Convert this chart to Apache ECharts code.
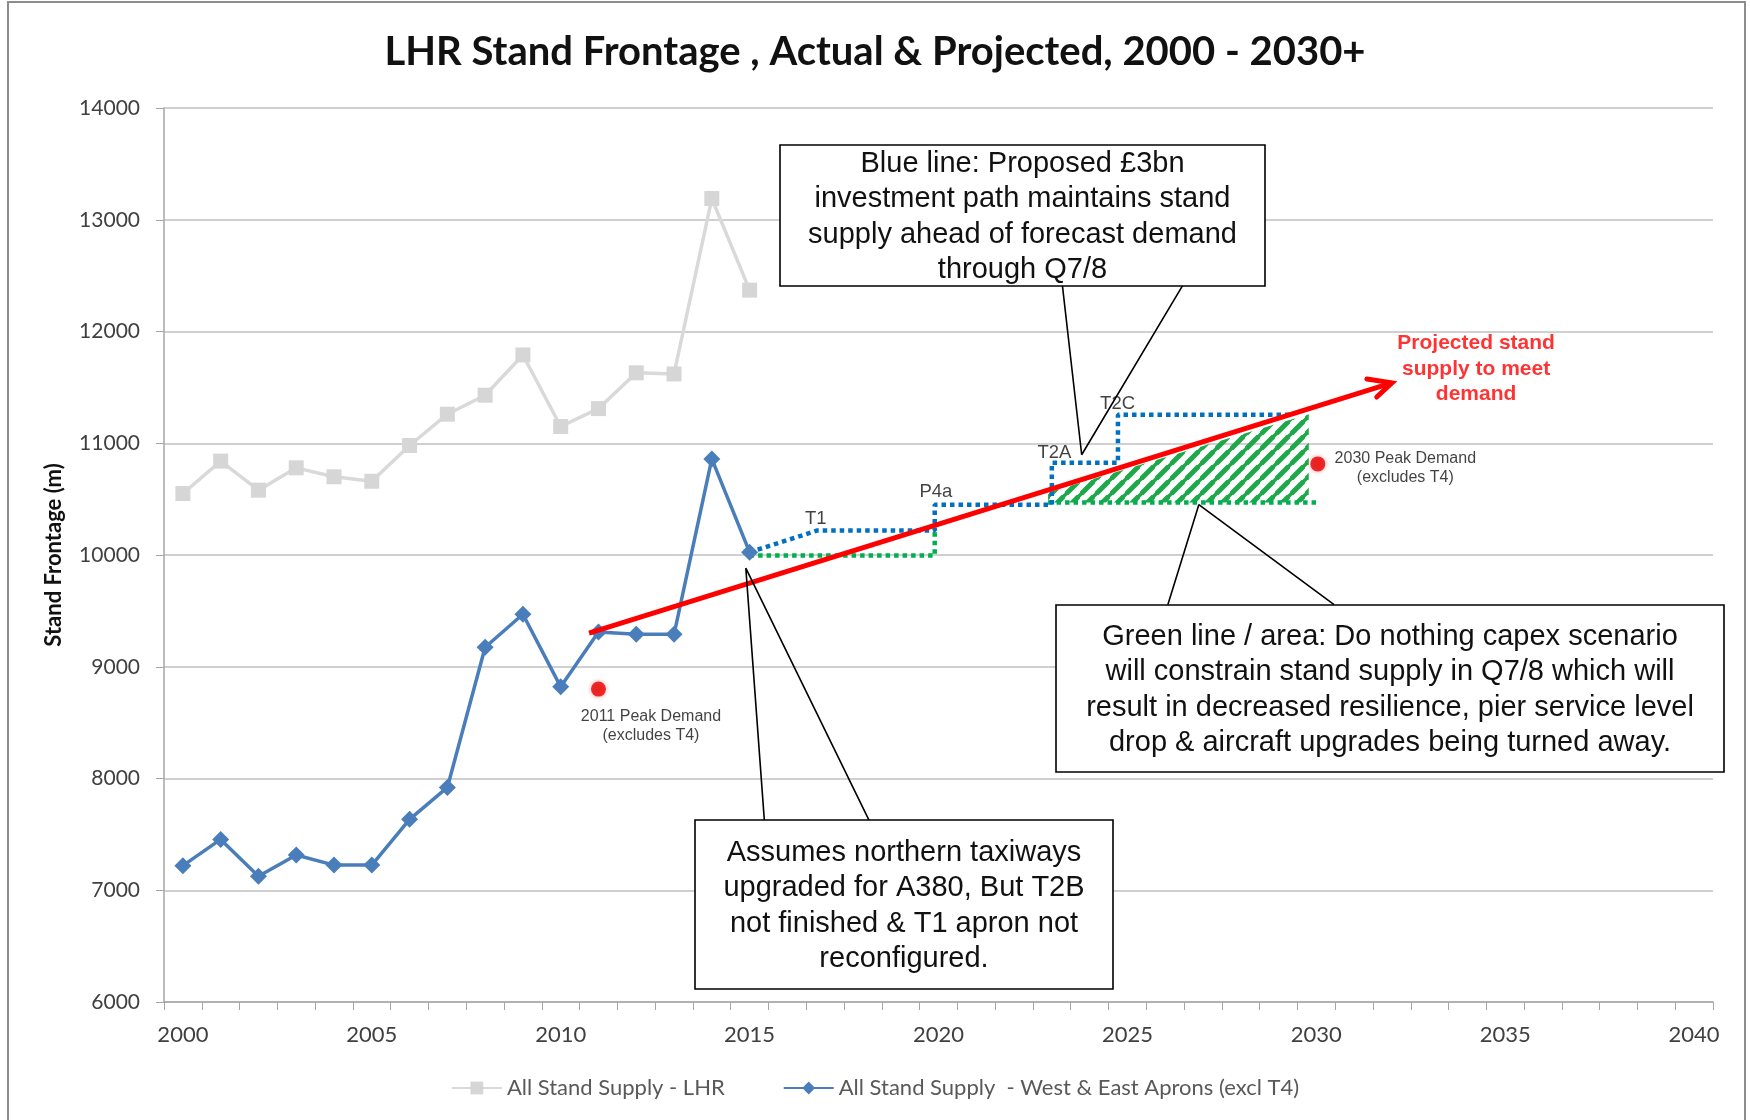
<!DOCTYPE html>
<html><head><meta charset="utf-8">
<script src="https://cdn.jsdelivr.net/npm/echarts@6/dist/echarts.min.js"></script>
<style>html,body{margin:0;padding:0;background:#fff}#c{width:1750px;height:1120px}</style>
</head><body><div id="c"></div>
<script>
// ---------- data ----------
const years = ['2000','2001','2002','2003','2004','2005','2006','2007','2008','2009','2010',
  '2011','2012','2013','2014','2015','2016','2017','2018','2019','2020','2021','2022','2023',
  '2024','2025','2026','2027','2028','2029','2030','2031','2032','2033','2034','2035','2036',
  '2037','2038','2039','2040'];
const yTicks = [6000, 14000, 1000]; // min, max, step
const lhrSupply = [10550,10840,10580,10780,10700,10660,10980,11260,11430,11790,11150,11310,11630,11620,13190,12370];
const westEastSupply = [7220,7455,7125,7315,7225,7225,7635,7920,9175,9470,8820,9310,9290,9290,10860,10025];
const peakDemand = [[2011.0, 8800], [2030.04, 10815]];
const peakDemandLabels = ['2011 Peak Demand\n(excludes T4)', '2030 Peak Demand\n(excludes T4)'];
const investmentPath = [[2015,10025],[2016.8,10220],[2019.9,10220],[2019.9,10450],[2023.0,10450],
  [2023.0,10825],[2024.75,10825],[2024.75,11255],[2029.3,11255]];
const doNothingPathA = [[2015,9995],[2019.9,9995],[2019.9,10220]];
const doNothingPathB = [[2022.9,10470],[2030.1,10470]];
const doNothingArea = [[2022.9,10470],[2029.8,10470],[2029.8,11260],[2022.9,10560]];
const projectionLine = [[2010.75,9300],[2032.0,11540]];
const projectionHead = [[2031.34,11575],[2032.0,11540],[2031.6,11414]];
const segmentLabels = [['T1',2016.75,10324],['P4a',2019.93,10567],['T2A',2023.07,10913],['T2C',2024.74,11350]];
const projectionText = [['Projected stand\nsupply to meet\ndemand', 2034.23, 11664]];
const leaderLines = [
  [[2023.28,12410],[2023.79,10897],[2026.46,12410]],
  [[2026.07,9555],[2026.89,10450],[2030.47,9555]],
  [[2015.39,7628],[2014.9,9883],[2018.16,7628]]
];
const calloutTexts = [
  'Blue line: Proposed £3bn\ninvestment path maintains stand\nsupply ahead of forecast demand\nthrough Q7/8',
  'Green line / area: Do nothing capex scenario\nwill constrain stand supply in Q7/8 which will\nresult in decreased resilience, pier service level\ndrop & aircraft upgrades being turned away.',
  'Assumes northern taxiways\nupgraded for A380, But T2B\nnot finished & T1 apron not\nreconfigured.'
];

// ---------- styles / layout ----------
const calloutBoxes = [
  {x:780, y:145, w:485, h:141, ty:217},
  {x:1056, y:605, w:668, h:167, ty:690},
  {x:695, y:820, w:418, h:169, ty:906}
];

// hatch pattern
const pat = document.createElement('canvas');
pat.width = 15; pat.height = 15;
(function(){
  const g = pat.getContext('2d');
  g.strokeStyle = '#1fa84b'; g.lineWidth = 5; g.lineCap = 'square';
  g.beginPath();
  g.moveTo(-2,17); g.lineTo(17,-2);
  g.moveTo(-9,8); g.lineTo(8,-9);
  g.moveTo(7,24); g.lineTo(24,7);
  g.stroke();
})();

const chart = echarts.init(document.getElementById('c'), null, {renderer:'canvas'});
const lab = 'Lato';
const series = [];

series.push({
  type:'custom', xAxisIndex:1, yAxisIndex:0, data: doNothingArea, silent:true, z:2,
  renderItem: function(params, api){
    if (params.dataIndex !== 0) return null;
    const pts = doNothingArea.map(function(p){ return api.coord(p); });
    return {type:'polygon', shape:{points:pts}, style:{fill:{image:pat, repeat:'repeat'}, stroke:null}};
  }
});
[doNothingPathA, doNothingPathB].forEach(function(d){
  series.push({type:'line', xAxisIndex:1, data:d, symbol:'none', z:3, silent:true,
    lineStyle:{color:'#00b050', width:4.5, type:[4.5,4], cap:'butt'}});
});
series.push({type:'line', xAxisIndex:1, data:investmentPath, symbol:'none', z:3, silent:true,
  lineStyle:{color:'#0070c0', width:4.5, type:[4.5,4], cap:'butt'}});

series.push({name:'All Stand Supply - LHR', type:'line', data:lhrSupply, symbol:'rect', symbolSize:15, z:4,
  lineStyle:{color:'#d9d9d9', width:3.5}, itemStyle:{color:'#d6d6d6'}});
series.push({name:'All Stand Supply  - West & East Aprons (excl T4)', type:'line', data:westEastSupply,
  symbol:'diamond', symbolSize:17, z:5,
  lineStyle:{color:'#4a7ebb', width:3.5}, itemStyle:{color:'#4a7ebb'}});

series.push({type:'line', xAxisIndex:1, data:projectionLine, symbol:'none', z:6, silent:true,
  lineStyle:{color:'#ff0000', width:5}});
series.push({type:'line', xAxisIndex:1, data:projectionHead, symbol:'none', z:6, silent:true,
  lineStyle:{color:'#ff0000', width:5, cap:'round', join:'miter'}});

leaderLines.forEach(function(d){
  series.push({type:'line', xAxisIndex:1, data:d, symbol:'none', z:8, silent:true,
    lineStyle:{color:'#000', width:1.6}});
});

const peakLabelPos = [[60,44],[95,12]];
series.push({type:'scatter', xAxisIndex:1, z:7, silent:true, symbolSize:15,
  itemStyle:{color:'#e60000', shadowBlur:5, shadowColor:'rgba(255,0,0,0.45)'},
  data: peakDemand.map(function(p,i){
    return {value:p, label:{show:true, formatter:peakDemandLabels[i], position:peakLabelPos[i],
      align:'center', verticalAlign:'middle', fontFamily:'Liberation Sans', fontSize:16, lineHeight:19, color:'#111'}};
  })
});
series.push({type:'scatter', xAxisIndex:1, z:7, silent:true, symbolSize:0,
  data: segmentLabels.map(function(s){ return {value:[s[1],s[2]], name:s[0]}; }),
  label:{show:true, position:'inside', formatter:'{b}', fontFamily:'Liberation Sans', fontSize:18.5, color:'#111'}
});
series.push({type:'scatter', xAxisIndex:1, z:7, silent:true, symbolSize:0,
  data: projectionText.map(function(s){ return {value:[s[1],s[2]], name:s[0]}; }),
  label:{show:true, position:'inside', formatter:'{b}', fontFamily:'Liberation Sans', fontWeight:'bold',
    fontSize:21, lineHeight:25.5, color:'#ff0000', align:'center', verticalAlign:'middle'}
});

const graphics = [
  {type:'rect', shape:{x:8, y:2, width:1737, height:1140}, style:{fill:null, stroke:'#8c8c8c', lineWidth:2}, silent:true, z:0}
];
calloutBoxes.forEach(function(b,i){
  graphics.push({type:'rect', shape:{x:b.x, y:b.y, width:b.w, height:b.h}, z:100,
    style:{fill:'#fff', stroke:'#000', lineWidth:1.6}});
  graphics.push({type:'text', x:b.x + b.w/2, y:b.ty, z:101,
    style:{text:calloutTexts[i], fontFamily:'Liberation Sans', fontSize:29, lineHeight:35.5,
      fill:'#111', align:'center', verticalAlign:'middle'}});
});

chart.setOption({
  animation:false,
  backgroundColor:'#fff',
  title:{text:'LHR Stand Frontage , Actual & Projected, 2000 - 2030+', left:'center', top:27,
    textStyle:{fontFamily:lab, fontWeight:'bold', fontSize:40, color:'#111'}},
  grid:{left:164, right:37, top:108, bottom:118, containLabel:false},
  legend:{bottom:16, left:'center', itemWidth:50, itemHeight:16, itemGap:58,
    data:['All Stand Supply - LHR','All Stand Supply  - West & East Aprons (excl T4)'],
    textStyle:{fontFamily:lab, fontSize:22, color:'#595959'}},
  xAxis:[
    {type:'category', data:years, boundaryGap:true,
      axisLine:{lineStyle:{color:'#a6a6a6', width:1.5}},
      axisTick:{show:true, interval:0, length:8, lineStyle:{color:'#a6a6a6'}},
      axisLabel:{interval:4, fontFamily:lab, fontSize:22, color:'#404040', margin:22},
      splitLine:{show:false}},
    {type:'value', min:1999.5, max:2040.5, show:false, splitLine:{show:false}}
  ],
  yAxis:{type:'value', min:yTicks[0], max:yTicks[1], interval:yTicks[2],
    name:'Stand Frontage (m)', nameLocation:'middle', nameGap:99,
    nameTextStyle:{fontFamily:lab, fontWeight:'bold', fontSize:22, color:'#111'},
    axisLine:{show:true, lineStyle:{color:'#a6a6a6', width:1.5}},
    axisTick:{show:true, length:8, lineStyle:{color:'#a6a6a6'}},
    axisLabel:{fontFamily:lab, fontSize:21, color:'#404040', margin:24, formatter:function(v){return String(v);}},
    splitLine:{lineStyle:{color:'#d0d0d0', width:2}}},
  series: series,
  graphic: graphics
});
</script></body></html>
